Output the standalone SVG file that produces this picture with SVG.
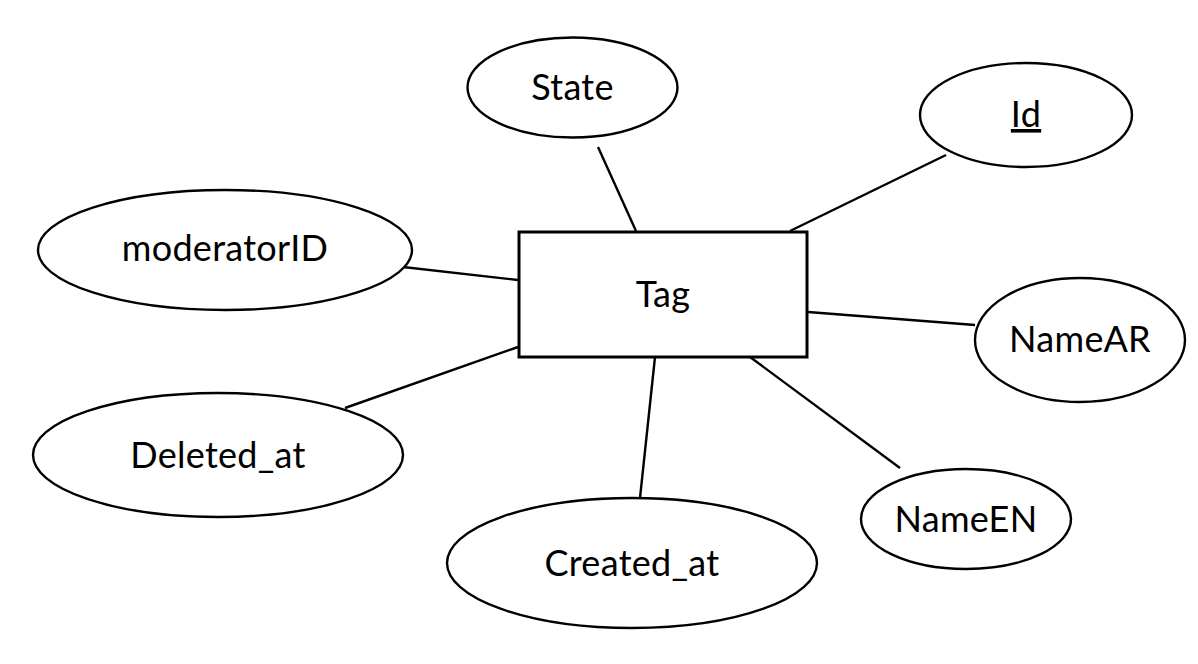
<svg xmlns="http://www.w3.org/2000/svg" width="1198" height="664" viewBox="0 0 1198 664">
<style>
.e{fill:#fff;stroke:#000;stroke-width:2.4}
.r{fill:#fff;stroke:#000;stroke-width:3}
.c line{stroke:#000;stroke-width:2.4}
text{font-family:Lato,"Open Sans",sans-serif;font-size:36px;letter-spacing:0.3px;text-anchor:middle;fill:#000}
</style>
<rect width="1198" height="664" fill="#fff"/>
<g class="c" id="connectors">
<line x1="598" y1="147" x2="636" y2="231"/>
<line x1="946" y1="155" x2="790" y2="231"/>
<line x1="403" y1="267" x2="518" y2="280"/>
<line x1="345" y1="408" x2="518" y2="347"/>
<line x1="655" y1="357" x2="640" y2="498"/>
<line x1="750" y1="357" x2="900" y2="468"/>
<line x1="808" y1="312" x2="975" y2="325"/>
</g>
<g id="tag"><rect class="r" x="519" y="232" width="288" height="125"/><text x="663" y="307">Tag</text></g>
<g id="state"><ellipse class="e" cx="572.5" cy="87.5" rx="105" ry="50"/><text x="572.5" y="100">State</text></g>
<g id="id"><ellipse class="e" cx="1026" cy="115" rx="106" ry="52"/><text x="1026" y="127" text-decoration="underline">Id</text></g>
<g id="moderatorID"><ellipse class="e" cx="225" cy="250" rx="187" ry="60"/><text x="225" y="261">moderatorID</text></g>
<g id="nameAR"><ellipse class="e" cx="1080" cy="340" rx="105" ry="62"/><text x="1080" y="352">NameAR</text></g>
<g id="deleted_at"><ellipse class="e" cx="218" cy="455" rx="185" ry="62"/><text x="218" y="468">Deleted_at</text></g>
<g id="nameEN"><ellipse class="e" cx="966" cy="519" rx="105" ry="50"/><text x="966" y="532">NameEN</text></g>
<g id="created_at"><ellipse class="e" cx="632" cy="563" rx="185" ry="65"/><text x="632" y="576">Created_at</text></g>
</svg>
